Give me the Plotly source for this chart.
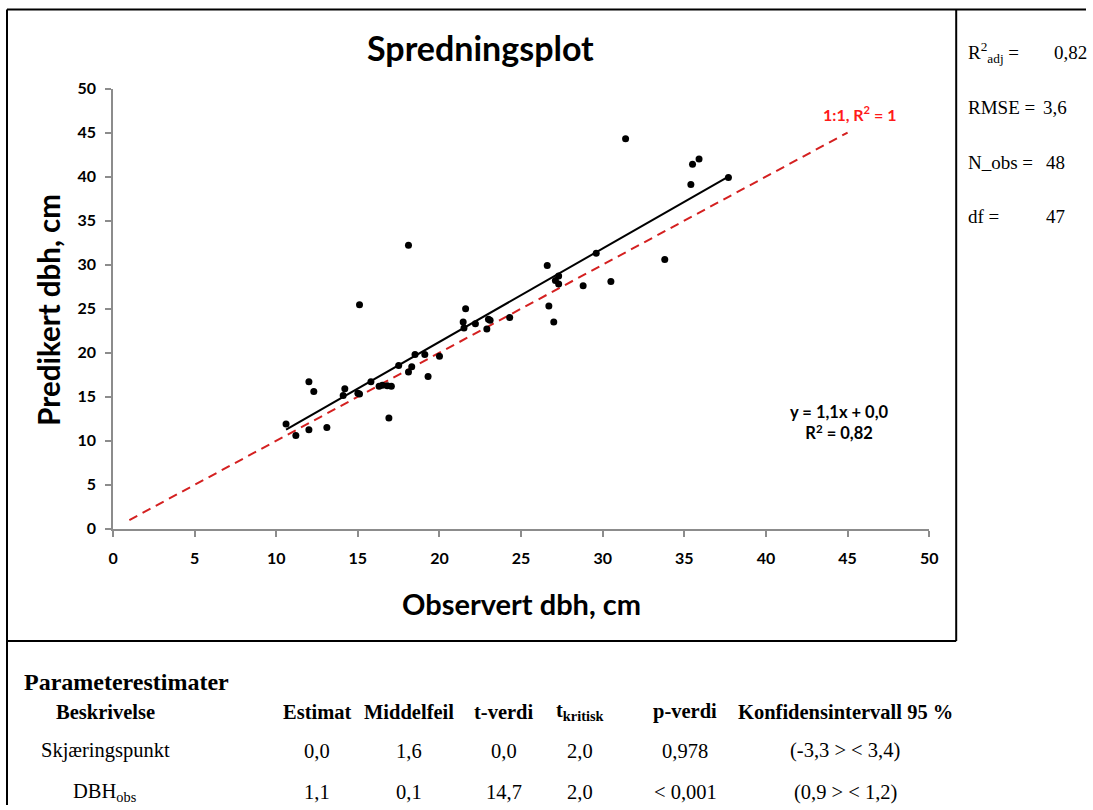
import plotly.graph_objects as go

# Observed vs. predicted diameter at breast height (cm)
obs_dbh = [10.6, 11.2, 12.0, 12.3, 12.0, 13.1, 14.1, 14.2, 15.0, 15.1,
           15.1, 15.8, 16.3, 16.5, 16.8, 17.05, 16.9, 17.5, 18.1, 18.3,
           18.5, 19.3, 19.1, 18.1, 20.0, 21.6, 21.45, 21.5, 22.2, 22.9,
           23.0, 23.1, 24.3, 26.6, 26.7, 27.0, 27.1, 27.3, 27.3, 28.8,
           30.5, 29.6, 31.4, 35.5, 35.9, 35.4, 37.7, 33.8]
pred_dbh = [11.9, 10.6, 16.7, 15.6, 11.25, 11.5, 15.15, 15.9, 15.4, 15.3,
            25.45, 16.7, 16.2, 16.3, 16.25, 16.2, 12.6, 18.55, 17.8, 18.4,
            19.8, 17.3, 19.8, 32.2, 19.6, 25.0, 23.5, 22.8, 23.3, 22.7,
            23.8, 23.7, 24.0, 29.9, 25.3, 23.5, 28.2, 28.7, 27.8, 27.6,
            28.1, 31.3, 44.3, 41.4, 42.0, 39.1, 39.9, 30.6]

# Linear fit and reference line
fit_slope = 1.06
fit_intercept = 0.04
fit_r2 = 0.82
one_to_one = [1, 45]

axis_ticks = list(range(0, 55, 5))

# Model summary
r2_adj = 0.82
rmse = 3.6
n_obs = 48
df_resid = 47

# Parameter estimates table
param_names = ["Skjæringspunkt", "DBH<sub>obs</sub>"]
estimat = [0.0, 1.1]
middelfeil = [1.6, 0.1]
t_verdi = [0.0, 14.7]
t_kritisk = [2.0, 2.0]
p_verdi = ["0,978", "< 0,001"]
ci_low = [-3.3, 0.9]
ci_high = [3.4, 1.2]
col_headers = ["Beskrivelse", "Estimat", "Middelfeil", "t-verdi",
               "t<sub>kritisk</sub>", "p-verdi", "Konfidensintervall 95 %"]

# Figure size and the mapping from layout coordinates (pixels on the
# 1093x810 sheet) into the figure's own pixel space.
W, H = 1095, 814
SHEET_OFF_X, SHEET_OFF_Y = 6.0, 10.5
SHEET_SX, SHEET_SY = 0.987, 0.976
SANS = "Lato"
SERIF = "Liberation Serif"


def fmt(v, d=1):
    return f"{v:.{d}f}".replace(".", ",")


def px(x):
    """Sheet x (pixels) -> paper fraction."""
    return ((x - SHEET_OFF_X) / SHEET_SX) / W


def py(y):
    """Sheet y (pixels, from top) -> paper fraction."""
    return 1 - ((y - SHEET_OFF_Y) / SHEET_SY) / H


fit_x = [min(obs_dbh), max(obs_dbh)]
fit_y = [fit_slope * x + fit_intercept for x in fit_x]

fig = go.Figure()
fig.add_trace(go.Scatter(
    x=one_to_one, y=one_to_one, mode="lines",
    line=dict(color="#d42020", width=2, dash="9px,6px"), hoverinfo="skip"))
fig.add_trace(go.Scatter(
    x=fit_x, y=fit_y, mode="lines",
    line=dict(color="black", width=2), hoverinfo="skip"))
fig.add_trace(go.Scatter(
    x=obs_dbh, y=pred_dbh, mode="markers",
    marker=dict(color="black", size=7)))

axis_common = dict(
    range=[0, 50], tickvals=axis_ticks, showgrid=False, zeroline=False,
    showline=True, linecolor="#8c8c8c", linewidth=1.5,
    ticks="outside", ticklen=6, tickcolor="#8c8c8c", tickwidth=1.5,
    tickfont=dict(family=SANS, size=16, color="black", weight="bold"),
    fixedrange=True,
)
fig.update_xaxes(domain=[px(114), px(930)], ticklabelstandoff=8, **axis_common)
fig.update_yaxes(domain=[py(529), py(89)], ticklabelstandoff=6, **axis_common)

ann = []
# Titles
ann.append(dict(x=px(481), y=py(48), text="Spredningsplot",
                font=dict(family=SANS, size=34, color="black", weight="bold")))
ann.append(dict(x=px(522), y=py(604), text="Observert dbh, cm",
                font=dict(family=SANS, size=29, color="black", weight="bold")))
ann.append(dict(x=px(50), y=py(310), text="Predikert dbh, cm", textangle=-90,
                font=dict(family=SANS, size=29.5, color="black", weight="bold")))
# In-plot labels
ann.append(dict(x=px(860), y=py(114),
                text=f"1:1, R<sup>2</sup> = {one_to_one[0]}",
                font=dict(family=SANS, size=16, color="#ff1a1a", weight="bold")))
ann.append(dict(x=px(840), y=py(423),
                text=(f"y = {fmt(fit_slope)}x + {fmt(fit_intercept)}<br>"
                      f"R<sup>2</sup> = {fmt(fit_r2, 2)}"),
                font=dict(family=SANS, size=16.5, color="black", weight="bold")))

# Model summary panel
stats = [("R<sup>2</sup><sub>adj</sub> =", fmt(r2_adj, 2), 53, 1053),
         ("RMSE =", fmt(rmse), 108, 1042),
         ("N_obs =", str(n_obs), 163, 1045),
         ("df =", str(df_resid), 217, 1045)]
for label, val, yy, xv in stats:
    ann.append(dict(x=px(967), y=py(yy), text=label, xanchor="left",
                    font=dict(family=SERIF, size=19, color="black")))
    ann.append(dict(x=px(xv), y=py(yy), text=val, xanchor="left",
                    font=dict(family=SERIF, size=19, color="black")))

# Parameter table
ann.append(dict(x=px(23), y=py(682), text="Parameterestimater", xanchor="left",
                font=dict(family=SERIF, size=24, color="black", weight="bold")))
col_x = [106, 318, 410, 505, 581, 686, 846]
for cx, h in zip(col_x, col_headers):
    ann.append(dict(x=px(cx), y=py(712), text=h,
                    font=dict(family=SERIF, size=20.5, color="black", weight="bold")))
row_y = [751, 792]
for i, ry in enumerate(row_y):
    cells = [param_names[i], fmt(estimat[i]), fmt(middelfeil[i]),
             fmt(t_verdi[i]), fmt(t_kritisk[i]), p_verdi[i],
             f"({fmt(ci_low[i])} > < {fmt(ci_high[i])})"]
    for cx, c in zip(col_x, cells):
        ann.append(dict(x=px(cx), y=py(ry), text=c,
                        font=dict(family=SERIF, size=20.5, color="black")))

for a in ann:
    a.setdefault("xanchor", "center")
    a.update(xref="paper", yref="paper", yanchor="middle", showarrow=False)

# Frame lines
frame = dict(type="line", xref="paper", yref="paper",
             line=dict(color="black", width=2))
left_x = px(8)
shapes = [
    dict(frame, x0=left_x, x1=left_x, y0=py(10), y1=0),
    dict(frame, x0=left_x, x1=1, y0=py(10), y1=py(10)),
    dict(frame, x0=px(957), x1=px(957), y0=py(10), y1=py(641)),
    dict(frame, x0=left_x, x1=px(957), y0=py(641), y1=py(641)),
]

fig.update_layout(
    width=W, height=H, margin=dict(l=0, r=0, t=0, b=0),
    paper_bgcolor="white", plot_bgcolor="white",
    showlegend=False, annotations=ann, shapes=shapes,
)

fig.write_html("out.html", config={"displayModeBar": False})
